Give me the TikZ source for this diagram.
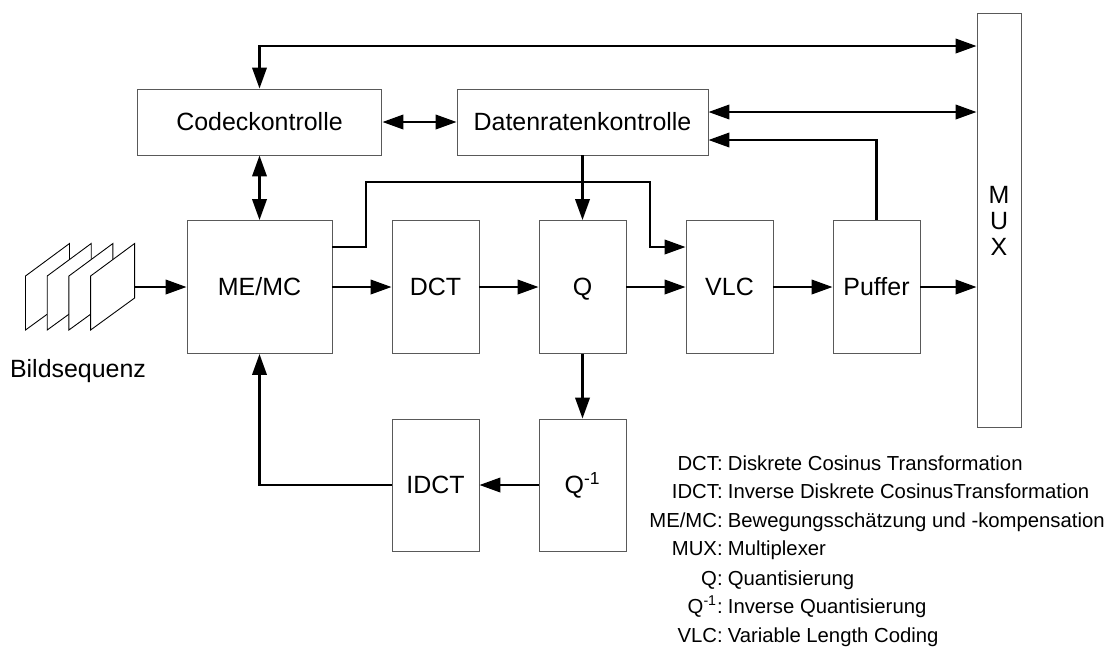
\documentclass[tikz,border=0pt]{standalone}
\usepackage{fontspec}
\setmainfont{Liberation Sans}
\usetikzlibrary{arrows.meta}

\begin{document}
\begin{tikzpicture}[
    x=0.02cm,
    y=-0.02cm,
    >={Triangle[length=4.2mm,width=2.9mm]},
    every node/.style={font=\fontsize{14.2}{14.8}\selectfont},
    block/.style={draw=black!65, line width=0.55pt, fill=white, inner sep=0pt, text height=10.2pt, text depth=0pt},
    muxblock/.style={draw=black!65, line width=0.55pt, fill=white, inner sep=0pt, align=center},
    frame/.style={draw=black, line width=0.5pt, fill=white},
    flow/.style={->, line width=1.3pt},
    biflow/.style={<->, line width=1.3pt},
    legendkey/.style={anchor=base east, inner sep=0pt, font=\fontsize{11.55}{14}\selectfont},
    legendtext/.style={anchor=base west, inner sep=0pt, font=\fontsize{11.55}{14}\selectfont}
  ]
    \useasboundingbox (0,0) rectangle (1111,646);

    % top row
    \node[block, minimum width=4.9cm, minimum height=1.32cm] (codec) at (259.5,122) {Codeckontrolle};
    \node[block, minimum width=5.02cm, minimum height=1.32cm] (rate) at (582.5,122) {Datenratenkontrolle};

    % main row
    \node[block, minimum width=2.9cm, minimum height=2.66cm] (memc) at (259.5,287) {ME/MC};
    \node[block, minimum width=1.74cm, minimum height=2.66cm] (dct) at (435.5,287) {DCT};
    \node[block, minimum width=1.74cm, minimum height=2.66cm] (quant) at (582.5,287) {Q};
    \node[block, minimum width=1.74cm, minimum height=2.66cm] (vlc) at (729.5,287) {VLC};
    \node[block, minimum width=1.74cm, minimum height=2.66cm] (puffer) at (876.5,287) {Puffer};

    % feedback row
    \node[block, minimum width=1.74cm, minimum height=2.64cm] (idct) at (435.5,485) {IDCT};
    \node[block, minimum width=1.74cm, minimum height=2.64cm] (iquant) at (582.5,485) {Q\textsuperscript{-1}};

    \node[muxblock, minimum width=0.88cm, minimum height=8.28cm] (mux) at (999,220.7) {M\\U\\X};

    % image sequence
    \foreach \i/\x in {1/25.5,2/47.2,3/68.9,4/90.6} {
      \draw[frame] (\x,276) -- (\x+44,243.5) -- (\x+44,298) -- (\x,330) -- cycle;
    }
    \coordinate (seq) at (134.6,287);
    \node[inner sep=0pt] (seqlabel) at (78,371) {Bildsequenz};

    % connectors
    \coordinate (topbend) at (259.5,46);
    \coordinate (muxtop) at (mux.west |- topbend);
    \draw[biflow] (codec.north) -- (topbend) -- (muxtop);
    \draw[biflow] (codec.south) -- (memc.north);
    \draw[biflow] (codec.east) -- (rate.west);
    \coordinate (ratein) at (rate.east |- 0,112);
    \draw[biflow] (ratein) -- (mux.west |- ratein);
    \coordinate (fillin) at (rate.east |- 0,140);
    \draw[flow] (puffer.north) -- (puffer.north |- fillin) -- (fillin);
    \draw[flow] (rate.south -| quant.north) -- (quant.north);

    \draw[flow] (seq) -- (memc.west);
    \draw[flow] (memc.east) -- (dct.west);
    \draw[flow] (dct.east) -- (quant.west);
    \draw[flow] (quant.east) -- (vlc.west);
    \draw[flow] (vlc.east) -- (puffer.west);
    \draw[flow] (puffer.east) -- (mux.west |- puffer.east);

    \coordinate (bypassout) at (memc.east |- 0,247);
    \draw[flow] (bypassout) -- (366,247) -- (366,182) -- (650,182) -- (650,247) -- (vlc.west |- bypassout);

    \draw[flow] (quant.south) -- (iquant.north);
    \draw[flow] (iquant.west) -- (idct.east);
    \draw[flow] (idct.west) -- (memc.south |- idct.west) -- (memc.south);

    % legend
    \foreach \i/\k/\t/\y in {
        a/DCT:/Diskrete Cosinus Transformation/470,
        b/IDCT:/Inverse Diskrete CosinusTransformation/498,
        c/ME\slash MC:/Bewegungsschätzung und -kompensation/527,
        d/MUX:/Multiplexer/555,
        e/Q:/Quantisierung/585,
        f/Q\textsuperscript{-1}:/Inverse Quantisierung/613,
        g/VLC:/Variable Length Coding/642} {
      \node[legendkey] (key\i) at (723,\y) {\k};
      \node[legendtext] (val\i) at (727.5,\y) {\t};
    }
  \end{tikzpicture}
\end{document}
